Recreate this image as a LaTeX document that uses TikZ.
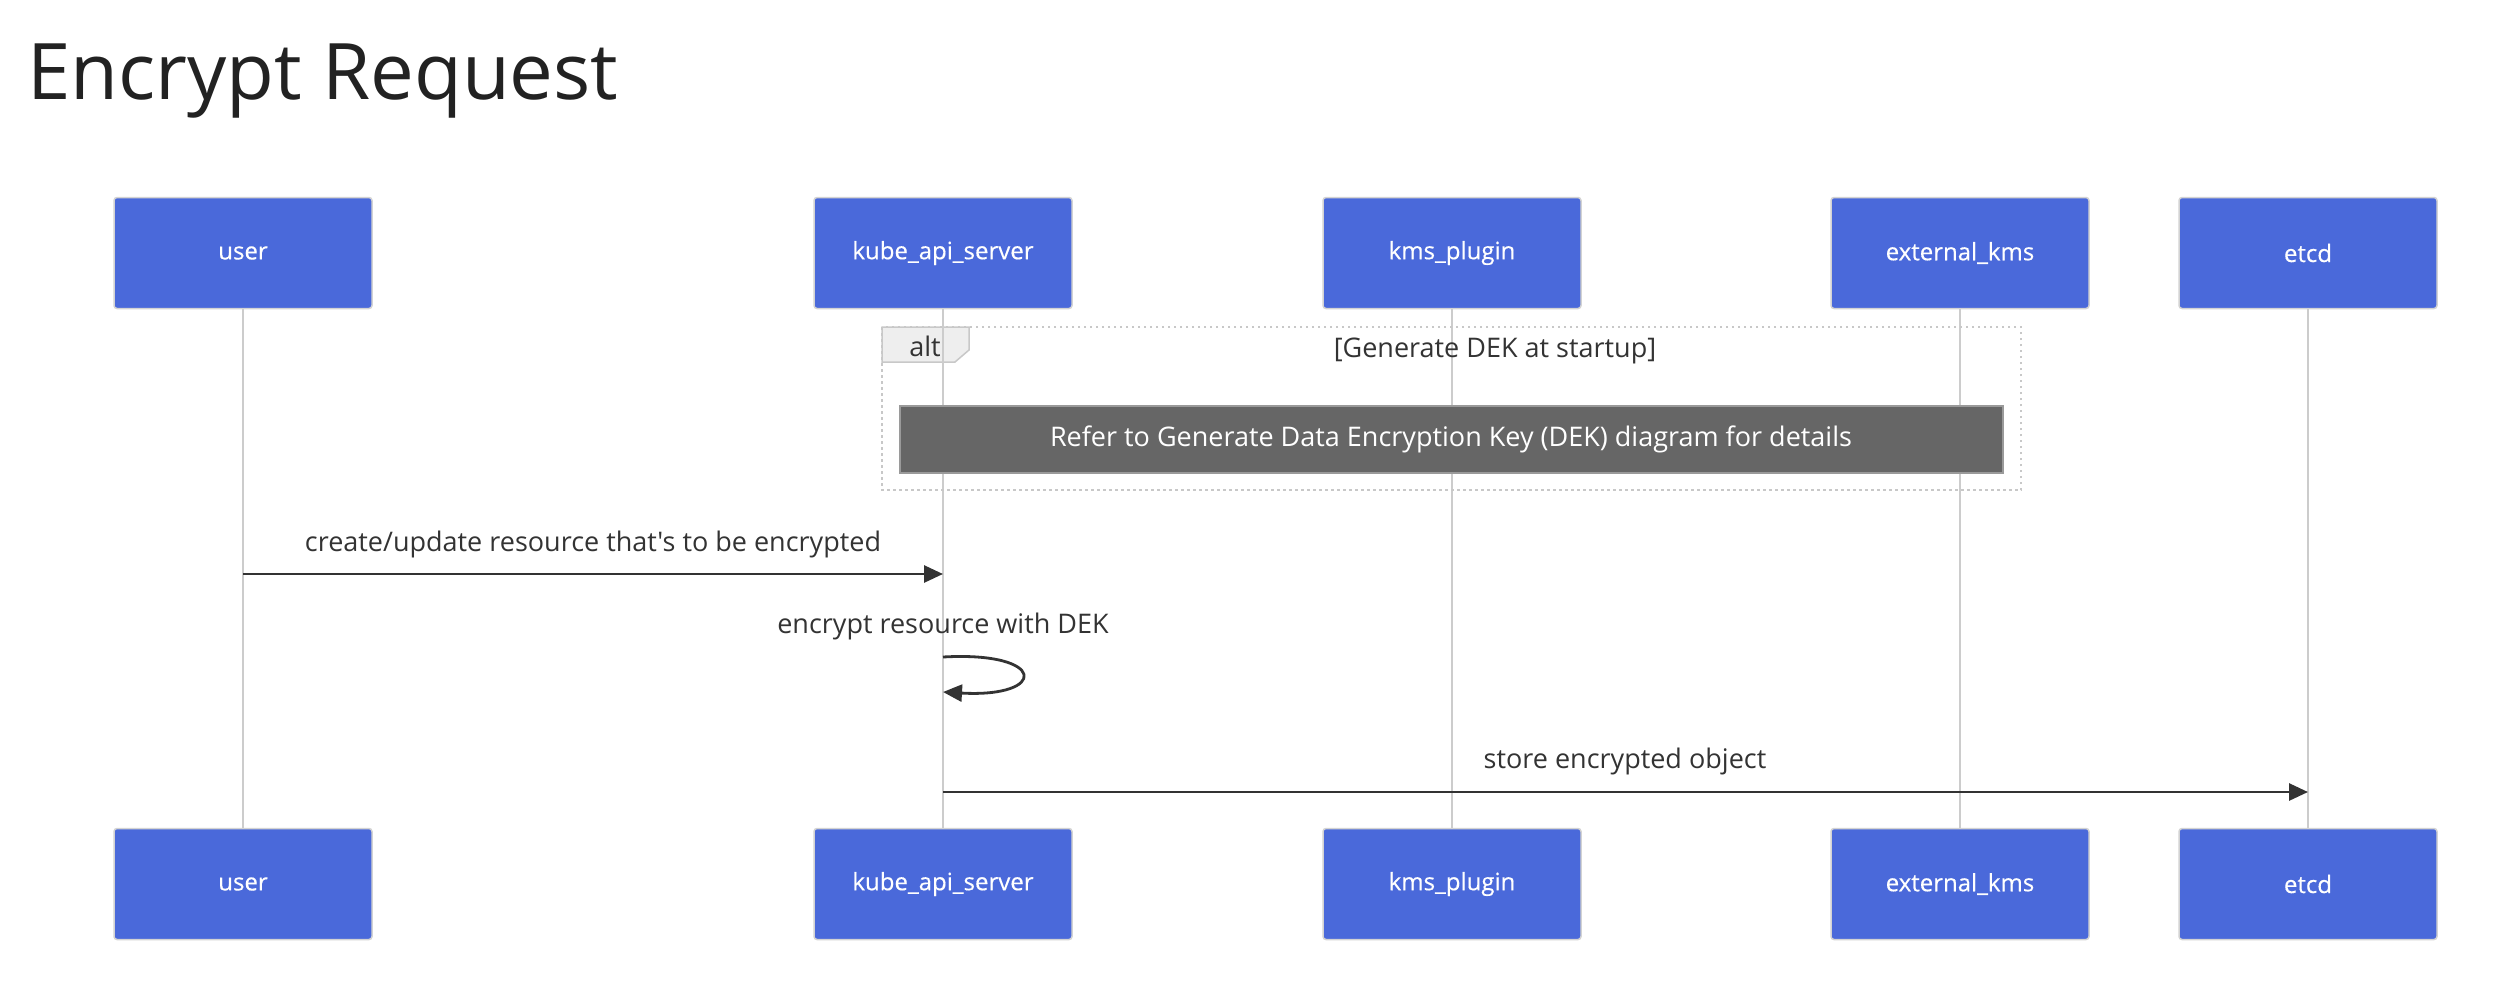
\documentclass[tikz,border=0pt]{standalone}
\usepackage{fontspec}
\setmainfont{Open Sans}[Ligatures=TeXOff]
\newfontfamily\actorfont{Open Sans}[FakeBold=0.4]
\usetikzlibrary{arrows.meta}
\definecolor{actorblue}{HTML}{4A69DA}
\definecolor{actorborder}{HTML}{D3D3D3}
\definecolor{lifecol}{HTML}{CCCCCC}
\definecolor{msgcol}{HTML}{333333}
\definecolor{titlecol}{HTML}{222222}
\definecolor{framecol}{HTML}{C8C8C8}
\definecolor{tabfill}{HTML}{EEEEEE}
\definecolor{notefill}{HTML}{666666}
\definecolor{noteborder}{HTML}{9A9A9A}
\begin{document}
\begin{tikzpicture}[x=1pt,y=-1pt,
  actor/.style={draw=actorborder, line width=1.5pt, fill=actorblue, rounded corners=3pt,
    minimum width=258pt, minimum height=111pt, inner sep=0pt, text=white,
    font=\actorfont\fontsize{24}{28}\selectfont},
  lifeline/.style={draw=lifecol, line width=2.6pt},
  msg/.style={draw=msgcol, line width=2.8pt, -{Triangle[length=19pt,width=17pt]}},
  lbl/.style={anchor=base, inner sep=0pt, text=msgcol, font=\fontsize{27}{32}\selectfont},
  altframe/.style={draw=framecol, line width=2.5pt, dash pattern=on 2.5pt off 3.5pt},
  alttab/.style={draw=framecol, line width=1.5pt, fill=tabfill},
  notebox/.style={draw=noteborder, line width=2pt, fill=notefill, minimum width=1103pt,
    minimum height=67pt, inner sep=0pt, text=white, font=\fontsize{27}{32}\selectfont}]
\useasboundingbox (0,0) rectangle (2498,994);

% title
\node[anchor=base west, inner sep=0pt, text=titlecol, font=\fontsize{78}{90}\selectfont] (title) at (27,99) {Encrypt Request};

% actors (top)
\node[actor] (u) at (243,253) {user};
\node[actor] (k) at (943,253) {kube\_api\_server};
\node[actor] (p) at (1452,253) {kms\_plugin};
\node[actor] (x) at (1960,253) {external\_kms};
\node[actor] (e) at (2308,253) {etcd};
% actors (bottom)
\node[actor] (ub) at (243,884) {user};
\node[actor] (kb) at (943,884) {kube\_api\_server};
\node[actor] (pb) at (1452,884) {kms\_plugin};
\node[actor] (xb) at (1960,884) {external\_kms};
\node[actor] (eb) at (2308,884) {etcd};

% alt tab (behind lifelines)
\draw[alttab] (882,327) -- (969,327) -- (969,350) -- (955,362) -- (882,362) -- cycle;
\node[lbl] (altlbl) at (925,356) {alt};

% lifelines
\draw[lifeline] (u.south) -- (ub.north);
\draw[lifeline] (k.south) -- (kb.north);
\draw[lifeline] (p.south) -- (pb.north);
\draw[lifeline] (x.south) -- (xb.north);
\draw[lifeline] (e.south) -- (eb.north);

% alt frame
\draw[altframe] (882,327) rectangle (2021,490);
\node[lbl] (cond) at (1495,357) {[Generate DEK at startup]};

% note
\node[notebox] (note) at (1451,439) {Refer to Generate Data Encryption Key (DEK) diagram for details};

% messages
\node[lbl] (l1) at (593,551) {create/update resource that's to be encrypted};
\draw[msg] (u |- 0,574) -- (k |- 0,574);

\node[lbl] (l2) at (943,633) {encrypt resource with DEK};
\draw[msg] (k |- 0,657) .. controls (1048,651) and (1048,698) .. (k |- 0,692);

\node[lbl] (l3) at (1625,768) {store encrypted object};
\draw[msg] (k |- 0,792) -- (e |- 0,792);
\end{tikzpicture}
\end{document}
